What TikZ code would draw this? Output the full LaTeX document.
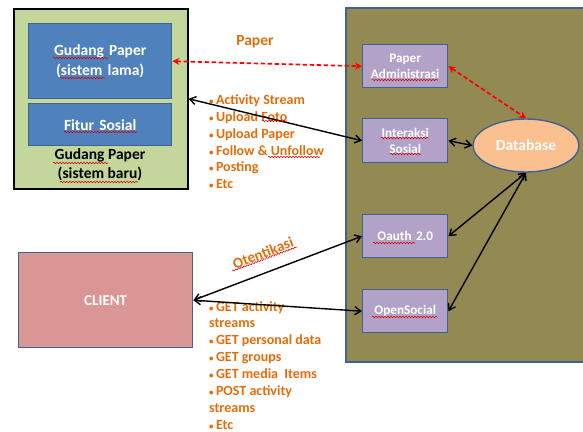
\documentclass[tikz,border=0pt]{standalone}
\usepackage{fontspec}
\setmainfont{Carlito}
\usetikzlibrary{shapes.geometric,arrows.meta,decorations.pathmorphing}
\definecolor{olivebg}{HTML}{938953}
\definecolor{edgeblue}{HTML}{3F6391}
\definecolor{bluebox}{HTML}{4F81BD}
\definecolor{greenbg}{HTML}{C3D69B}
\definecolor{purplebox}{HTML}{B2A2C7}
\definecolor{dbfill}{HTML}{FAC090}
\definecolor{clientfill}{HTML}{D99694}
\definecolor{orangetxt}{HTML}{E46C0A}
\newcommand{\bul}{{\fontsize{9}{9}\selectfont•}\,}
\tikzset{
  x=1pt,y=-1pt,
  boxbase/.style={draw=edgeblue,line width=1.4pt,anchor=north west,inner sep=0pt,align=center,text=white,font=\fontsize{15.5}{20}\selectfont\bfseries},
  bluenode/.style={boxbase,fill=bluebox,text width=143pt,minimum width=143pt},
  purplenode/.style={boxbase,fill=purplebox,text width=85pt,minimum width=85pt,minimum height=43pt,font=\fontsize{13.2}{15.5}\selectfont\bfseries},
  listtext/.style={anchor=north west,inner sep=0pt,align=left,text=orangetxt,font=\fontsize{14}{16.85}\selectfont\bfseries},
  blackarrow/.style={draw=black,line width=1.4pt,{Straight Barb[length=6pt,width=8pt]}-{Straight Barb[length=6pt,width=8pt]}},
  redarrow/.style={draw=red,line width=1.7pt,dashed,dash pattern=on 4.5pt off 2.5pt,{Stealth[length=7pt,width=7pt]}-{Stealth[length=7pt,width=7pt]}},
  squiggle/.style={draw=red!85!black,line width=0.55pt,decorate,decoration={snake,amplitude=0.7pt,segment length=3pt}}
}
\begin{document}
\begin{tikzpicture}
\useasboundingbox (0,0) rectangle (583,431);
\path[draw=edgeblue,line width=1.6pt,fill=olivebg] (584,8) -- (346,8) -- (346,362) -- (584,362);
\node[draw=black,line width=1.6pt,fill=greenbg,anchor=north west,minimum width=174pt,minimum height=180pt,inner sep=0pt] (green) at (13,8) {};
\node[bluenode,minimum height=75pt] (blue1) at (28,23) {Gudang Paper\\(sistem lama)};
\node[bluenode,minimum height=42pt] (blue2) at (28,103) {Fitur Sosial};
\node[anchor=center,inner sep=0pt,align=center,text=black,font=\fontsize{15.5}{19}\selectfont\bfseries] (gcap) at (100,165) {Gudang Paper\\(sistem baru)};
\node[purplenode] (padm) at (362,44) {Paper\\Administrasi};
\node[purplenode,minimum height=44pt] (inter) at (362,118) {Interaksi\\Sosial};
\node[purplenode] (oauth) at (362,214) {Oauth 2.0};
\node[purplenode] (open) at (362,289) {OpenSocial};
\node[ellipse,draw=edgeblue,line width=1.4pt,fill=dbfill,minimum width=106pt,minimum height=53pt,inner sep=0pt,text=white,font=\fontsize{15.5}{18}\selectfont\bfseries] (db) at (526,145.5) {Database};
\node[draw=edgeblue,line width=1.4pt,fill=clientfill,anchor=north west,minimum width=174pt,minimum height=95pt,inner sep=0pt,text=white,font=\fontsize{15}{18}\selectfont\bfseries] (client) at (18,252) {CLIENT};
\node[anchor=center,inner sep=0pt,text=orangetxt,font=\fontsize{15.5}{18}\selectfont\bfseries] (ptxt) at (255,42) {Paper};
\node[anchor=center,inner sep=0pt,rotate=21,text=orangetxt,font=\fontsize{15}{18}\selectfont\bfseries] (otxt) at (263,253) {Otentikasi};
\node[listtext] (list1) at (209,94.5) {\bul Activity Stream\\\bul Upload Foto\\\bul Upload Paper\\\bul Follow \& Unfollow\\\bul Posting\\\bul Etc};
\node[listtext] (list2) at (209,301) {\bul GET activity\\streams\\\bul GET personal data\\\bul GET groups\\\bul GET media\ \ Items\\\bul POST activity\\streams\\\bul Etc};
\draw[redarrow] (blue1.east) -- (padm.west);
\draw[redarrow] (padm.east) -- (db.north);
\draw[blackarrow] (green.east) -- (inter.west);
\draw[blackarrow] (inter.east) -- (db.west);
\draw[blackarrow] (oauth.east) -- (db.south);
\draw[blackarrow] (open.east) -- (db.south);
\draw[blackarrow] (client.east) -- (oauth.west);
\draw[blackarrow] (client.east) -- (open.west);
\foreach \xa/\xb/\yy in {53/108/58,60/105/78,64/137/132,53/108/163,60/138/182,262/287/121,268/320/157,372/438/80,381/428/138,390/421/154,373/415/243,372/437/317}
  \path[squiggle] (\xa,\yy) -- (\xb,\yy);
\path[squiggle] (232,271) -- (297,247);
\end{tikzpicture}
\end{document}
